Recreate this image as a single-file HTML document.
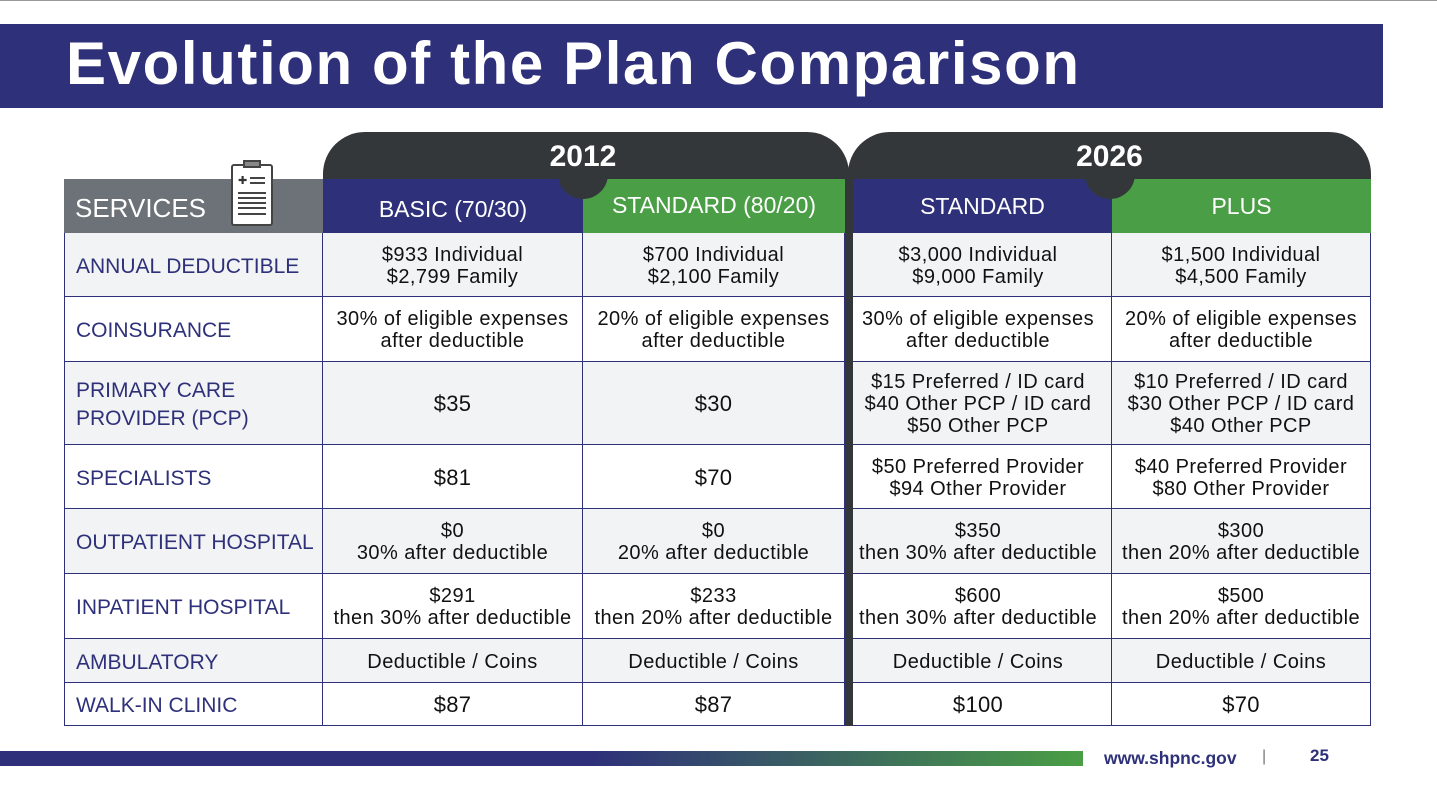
<!DOCTYPE html>
<html><head><meta charset="utf-8"><style>
*{margin:0;padding:0;box-sizing:border-box}
body{width:1437px;height:786px;background:#fff;position:relative;overflow:hidden;font-family:"Liberation Sans",sans-serif}
.a{position:absolute}
.c{position:absolute;display:flex;flex-direction:column;align-items:center;justify-content:center;text-align:center;color:#111;font-size:20px;letter-spacing:0.45px;line-height:22px;border-right:1px solid #2e3179;border-bottom:1px solid #2e3179;padding-top:2px}
.l{position:absolute;display:flex;align-items:center;padding-left:11px;padding-top:4px;color:#2e3179;font-size:21px;line-height:28px;border-right:1px solid #2e3179;border-bottom:1px solid #2e3179;border-left:1px solid #2e3179}
.h{position:absolute;display:flex;align-items:center;justify-content:center;color:#fff;font-size:23px}
.big{font-size:22px;letter-spacing:0.3px}
</style></head><body>
<div class="a" style="left:0;top:0;width:1437px;height:1px;background:#999"></div>
<div class="a" style="left:0;top:24px;width:1383px;height:84px;background:#2e3179"></div>
<div class="a" style="left:66px;top:28px;color:#fff;font-size:60px;letter-spacing:1.6px;font-weight:bold;line-height:72px;white-space:nowrap">Evolution of the Plan Comparison</div>

<div class="a" style="left:323px;top:132px;width:526px;height:56px;background:#33373a;border-radius:42px 42px 0 0"></div>
<div class="a" style="left:848px;top:132px;width:523px;height:56px;background:#33373a;border-radius:42px 42px 0 0"></div>

<div class="h" style="left:64px;top:179px;width:259px;height:54px;background:#6d7278;justify-content:flex-start;padding-left:11px;padding-top:4px;font-size:26px">SERVICES</div>
<div class="a" style="left:231px;top:164px;width:42px;height:62px;background:#fff;border:2px solid #444;border-radius:3px">
 <div class="a" style="left:10px;top:-6px;width:18px;height:8px;background:#888;border:2px solid #444"></div>
 <div class="a" style="left:5px;top:8px;font-size:11px;color:#333">✚</div>
 <div class="a" style="left:17px;top:11px;width:15px;height:2px;background:#444"></div>
 <div class="a" style="left:17px;top:16px;width:15px;height:2px;background:#444"></div>
 <div class="a" style="left:5px;top:26px;width:28px;height:2px;background:#444"></div>
 <div class="a" style="left:5px;top:31px;width:28px;height:2px;background:#444"></div>
 <div class="a" style="left:5px;top:36px;width:28px;height:2px;background:#444"></div>
 <div class="a" style="left:5px;top:41px;width:28px;height:2px;background:#444"></div>
 <div class="a" style="left:5px;top:47px;width:28px;height:2px;background:#444"></div>
</div>
<div class="h" style="left:323px;top:179px;width:260px;height:54px;background:#2e3179;padding-top:6px">BASIC (70/30)</div>
<div class="h" style="left:583px;top:179px;width:262px;height:54px;background:#4a9e45;padding-bottom:1px">STANDARD (80/20)</div>
<div class="h" style="left:853px;top:179px;width:259px;height:54px;background:#2e3179">STANDARD</div>
<div class="h" style="left:1112px;top:179px;width:259px;height:54px;background:#4a9e45">PLUS</div>
<div class="a" style="left:558px;top:165px;width:50px;height:34px;background:#33373a;border-radius:0 0 25px 25px"></div>
<div class="a" style="left:1085px;top:165px;width:50px;height:34px;background:#33373a;border-radius:0 0 25px 25px"></div>
<div class="a" style="left:323px;top:140px;width:520px;text-align:center;color:#fff;font-size:30px;font-weight:bold;z-index:5">2012</div>
<div class="a" style="left:848px;top:140px;width:523px;text-align:center;color:#fff;font-size:30px;font-weight:bold;z-index:5">2026</div>

<div id="rows"></div>
<div class="a" style="left:845px;top:179px;width:8px;height:547px;background:#33373a"></div>

<div class="a" style="left:0;top:751px;width:1083px;height:15px;background:linear-gradient(90deg,#2e3179 0%,#2e3179 55%,#4a9e45 100%)"></div>
<div class="a" style="left:1104px;top:748px;color:#2e3179;font-size:17.5px;font-weight:bold">www.shpnc.gov</div>
<div class="a" style="left:1262px;top:748px;color:#777;font-size:16px">|</div>
<div class="a" style="left:1310px;top:746px;color:#2e3179;font-size:17px;font-weight:bold">25</div>

<script>
const tops=[233,297,362,445,509,574,639,683,726];
const xs=[64,323,583,845,1112,1371];
const labels=["ANNUAL DEDUCTIBLE","COINSURANCE","PRIMARY CARE<br>PROVIDER (PCP)","SPECIALISTS","OUTPATIENT HOSPITAL","INPATIENT HOSPITAL","AMBULATORY","WALK-IN CLINIC"];
const cells=[
["$933 Individual<br>$2,799 Family","$700 Individual<br>$2,100 Family","$3,000 Individual<br>$9,000 Family","$1,500 Individual<br>$4,500 Family"],
["30% of eligible expenses<br>after deductible","20% of eligible expenses<br>after deductible","30% of eligible expenses<br>after deductible","20% of eligible expenses<br>after deductible"],
["<span class=big>$35</span>","<span class=big>$30</span>","$15 Preferred / ID card<br>$40 Other PCP / ID card<br>$50 Other PCP","$10 Preferred / ID card<br>$30 Other PCP / ID card<br>$40 Other PCP"],
["<span class=big>$81</span>","<span class=big>$70</span>","$50 Preferred Provider<br>$94 Other Provider","$40 Preferred Provider<br>$80 Other Provider"],
["$0<br>30% after deductible","$0<br>20% after deductible","$350<br>then 30% after deductible","$300<br>then 20% after deductible"],
["$291<br>then 30% after deductible","$233<br>then 20% after deductible","$600<br>then 30% after deductible","$500<br>then 20% after deductible"],
["Deductible / Coins","Deductible / Coins","Deductible / Coins","Deductible / Coins"],
["<span class=big>$87</span>","<span class=big>$87</span>","<span class=big>$100</span>","<span class=big>$70</span>"]];
const root=document.getElementById('rows');
let h='';
for(let r=0;r<8;r++){
 const bg=r%2==0?'#f2f3f4':'#fff';const t=tops[r],hh=tops[r+1]-t;
 h+=`<div class="l" style="left:64px;top:${t}px;width:259px;height:${hh}px;background:${bg}">${labels[r]}</div>`;
 for(let c=0;c<4;c++){
  h+=`<div class="c" style="left:${xs[c+1]}px;top:${t}px;width:${xs[c+2]-xs[c+1]}px;height:${hh}px;background:${bg}">${cells[r][c]}</div>`;
 }
}
root.innerHTML=h;
</script>
</body></html>
